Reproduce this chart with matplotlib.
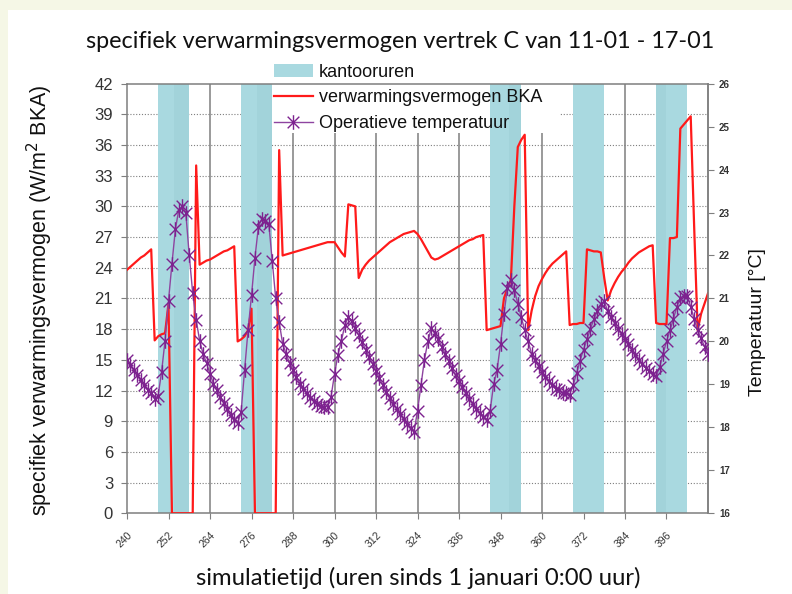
import numpy as np
import matplotlib
matplotlib.use("Agg")
import matplotlib.pyplot as plt
from matplotlib.patches import Rectangle, Patch
from matplotlib.lines import Line2D
from matplotlib.path import Path

# ---------------- data ----------------
hours = list(range(240, 409))

# specific heating power (W/m2 BKA), hourly
heating = [
    23.8, 24.1, 24.4, 24.7, 25.0, 25.2, 25.5, 25.8, 16.9, 17.3, 17.5, 17.6,   # 240-251
    20.5, 0, 0, 0, 0, 0, 0, 0, 34.0, 24.3, 24.5, 24.7,                        # 252-263
    24.8, 25.0, 25.2, 25.4, 25.6, 25.7, 25.9, 26.1, 16.8, 17.0, 17.3, 17.9,   # 264-275
    20.0, 0, 0, 0, 0, 0, 0, 0, 35.5, 25.2, 25.3, 25.4,                        # 276-287
    25.5, 25.6, 25.7, 25.8, 25.9, 26.0, 26.1, 26.2, 26.3, 26.4, 26.5, 26.5,   # 288-299
    26.5, 26.0, 25.5, 25.1, 30.2, 30.1, 30.0, 23.0, 23.8, 24.3, 24.7, 25.0,   # 300-311
    25.3, 25.6, 25.9, 26.2, 26.5, 26.7, 26.9, 27.1, 27.3, 27.4, 27.5, 27.6,   # 312-323
    27.3, 26.8, 26.2, 25.6, 25.0, 24.8, 24.9, 25.1, 25.3, 25.5, 25.7, 25.9,   # 324-335
    26.1, 26.3, 26.5, 26.7, 26.8, 27.0, 27.1, 27.2, 17.9, 18.0, 18.1, 18.2,   # 336-347
    18.3, 21.0, 22.0, 22.8, 30.0, 35.8, 36.5, 37.0, 17.9, 19.8, 21.2, 22.2,   # 348-359
    22.9, 23.5, 24.0, 24.4, 24.7, 25.0, 25.3, 25.6, 18.4, 18.5, 18.5, 18.6,   # 360-371
    18.6, 25.8, 25.7, 25.6, 25.6, 25.5, 23.0, 20.8, 21.8, 22.5, 23.1, 23.6,   # 372-383
    24.0, 24.5, 24.9, 25.2, 25.5, 25.7, 25.9, 26.1, 26.2, 18.6, 18.5, 18.5,   # 384-395
    18.5, 26.9, 26.9, 27.0, 37.6, 38.0, 38.4, 38.8, 28.0, 17.9, 19.5, 20.5,   # 396-407
    21.5,                                                                     # 408
]

# operative temperature (deg C), hourly
temperature = [
    19.57, 19.45, 19.33, 19.21, 19.10, 18.98, 18.88, 18.79, 18.67, 18.74, 19.29, 20.02,  # 240-251
    20.95, 21.81, 22.62, 23.07, 23.14, 23.00, 22.00, 21.12, 20.50, 20.02, 19.71, 19.50,  # 252-263
    19.24, 19.02, 18.86, 18.71, 18.57, 18.43, 18.29, 18.17, 18.10, 18.36, 19.33, 20.26,  # 264-275
    21.07, 21.95, 22.67, 22.86, 22.81, 22.74, 21.86, 21.00, 20.45, 19.95, 19.71, 19.50,  # 276-287
    19.33, 19.17, 19.02, 18.90, 18.79, 18.69, 18.62, 18.55, 18.50, 18.48, 18.48, 18.71,  # 288-299
    19.24, 19.69, 20.02, 20.38, 20.57, 20.48, 20.31, 20.14, 19.98, 19.81, 19.64, 19.48,  # 300-311
    19.31, 19.14, 18.98, 18.83, 18.69, 18.55, 18.43, 18.31, 18.19, 18.07, 17.98, 17.90,  # 312-323
    18.38, 18.98, 19.57, 20.00, 20.31, 20.19, 20.05, 19.88, 19.71, 19.55, 19.38, 19.21,  # 324-335
    19.07, 18.93, 18.79, 18.67, 18.55, 18.43, 18.33, 18.24, 18.17, 18.38, 19.00, 19.33,  # 336-347
    19.93, 20.64, 21.24, 21.43, 21.19, 20.88, 20.57, 20.26, 20.00, 19.71, 19.57, 19.43,  # 348-359
    19.29, 19.17, 19.07, 18.98, 18.90, 18.86, 18.81, 18.79, 18.76, 18.98, 19.26, 19.55,  # 360-371
    19.81, 20.05, 20.29, 20.52, 20.71, 20.88, 20.93, 20.71, 20.57, 20.43, 20.29, 20.17,  # 372-383
    20.05, 19.93, 19.81, 19.69, 19.57, 19.48, 19.38, 19.31, 19.24, 19.19, 19.40, 19.71,  # 384-395
    20.00, 20.26, 20.52, 20.81, 21.00, 21.05, 21.05, 20.81, 20.52, 20.26, 20.07, 19.88,  # 396-407
    19.71,                                                                               # 408
]

# office hours (kantooruren)
office_start = [249, 273, 345, 369, 393]
office_end = [258, 282, 354, 378, 402]
# slightly darker overlapping parts inside the bands
overlap_start = [253.5, 277.5, 350.5, 393.0]
overlap_end = [258.0, 282.0, 354.0, 395.8]

x_ticks = list(range(240, 397, 12))
y_ticks_left = list(range(0, 43, 3))
y_ticks_right = list(range(16, 27))

title = "specifiek verwarmingsvermogen vertrek C van 11-01 - 17-01"
xlabel = "simulatietijd (uren sinds 1 januari 0:00 uur)"
ylabel_left = "specifiek verwarmingsvermogen (W/m$^2$ BKA)"
ylabel_right = "Temperatuur [°C]"
legend_labels = ["kantooruren", "verwarmingsvermogen BKA", "Operatieve temperatuur"]

# ---------------- styling ----------------
W, H = 792, 594
BEIGE = "#f5f7e6"
BAND = "#a9d9e0"
BAND_DARK = "#a2d3da"
RED = "#ff1a1a"
PURPLE = "#7d228f"
PURPLE_LINE = "#8e44a0"
GRID = "#7f7f7f"
SANS = ["Liberation Sans", "DejaVu Sans"]
HUM = ["Lato", "DejaVu Sans"]

fig = plt.figure(figsize=(W / 100, H / 100), dpi=100, facecolor=BEIGE)
fig.patches.append(Rectangle((8 / W, 0), 1 - 8 / W, 1 - 10 / H, transform=fig.transFigure,
                             facecolor="white", edgecolor="none", zorder=-10))

L, R, B, T = 127 / W, 708 / W, 1 - 513.3 / H, 1 - 83.6 / H
ax = fig.add_axes([L, B, R - L, T - B])
ax.set_facecolor("white")
ax.set_xlim(240, 408)
ax.set_ylim(0, 42)

# grid
for xv in x_ticks[1:]:
    ax.axvline(xv, color=GRID, lw=1.1, zorder=1)
for yv in y_ticks_left[1:-1]:
    ax.axhline(yv, color=GRID, lw=0.8, ls=(0, (1, 1.6)), zorder=1)

# white legend background covering gridlines
ax.add_patch(Rectangle(((268 - 127) / (708 - 127), (513.3 - 133) / 429.7),
                       (560 - 268) / (708 - 127), 1.0, transform=ax.transAxes,
                       facecolor="white", edgecolor="none", zorder=1.5, clip_on=True))

# office bands
for s, e in zip(office_start, office_end):
    ax.axvspan(s, e, color=BAND, lw=0, zorder=2)
for s, e in zip(overlap_start, overlap_end):
    ax.axvspan(s, e, color=BAND_DARK, lw=0, zorder=2.1)

# heating line
ax.plot(hours, heating, color=RED, lw=1.6, zorder=4)

for sp in ["left", "bottom", "top", "right"]:
    ax.spines[sp].set_color(GRID)
    ax.spines[sp].set_linewidth(1.1)
ax.spines["top"].set_zorder(5)

ax.set_xticks(x_ticks)
ax.set_xticklabels([str(v) for v in x_ticks], rotation=45, ha="right", va="top",
                   fontsize=7.5, family=SANS, color="#333333", rotation_mode="anchor")
ax.set_yticks(y_ticks_left)
ax.set_yticklabels([str(v) for v in y_ticks_left], fontsize=12, family=SANS, color="#333333")
ax.tick_params(axis="y", direction="out", length=4, pad=6, color=GRID)
ax.tick_params(axis="x", direction="out", length=4, pad=8, color=GRID)

# temperature on right axis
ax2 = ax.twinx()
ax2.set_ylim(16, 26)
ax2.set_yticks(y_ticks_right)
ax2.set_yticklabels([str(v) for v in y_ticks_right], fontsize=7, family=SANS,
                    color="#333333", fontweight="bold")
ax2.tick_params(axis="y", direction="out", length=4, pad=4, color=GRID)
for sp in ["left", "bottom", "top", "right"]:
    ax2.spines[sp].set_visible(False)
ax2.spines["right"].set_visible(True)
ax2.spines["right"].set_color(GRID)
ax2.spines["right"].set_linewidth(1.1)

star = Path([(-1, -1), (1, 1), (-1, 1), (1, -1), (0, -1.25), (0, 1.25)],
            [Path.MOVETO, Path.LINETO, Path.MOVETO, Path.LINETO, Path.MOVETO, Path.LINETO])
ax2.plot(hours, temperature, color=PURPLE_LINE, lw=1.0, marker=star, ms=10.5,
         mec=PURPLE, mfc="none", mew=1.0, zorder=5)

# labels
fig.text(400 / W, 1 - 42 / H, title, ha="center", va="center",
         fontsize=16.8, family=HUM, color="#111111")
fig.text(418 / W, 1 - 578 / H, xlabel, ha="center", va="center",
         fontsize=17.2, family=HUM, color="#111111")
fig.text(40 / W, 1 - 300 / H, ylabel_left, ha="center", va="center", rotation=90,
         fontsize=15.5, family=SANS, color="#111111")
fig.text(757 / W, 1 - 322 / H, ylabel_right, ha="center", va="center", rotation=90,
         fontsize=14, family=SANS, color="#111111")

# legend
handles = [Patch(facecolor=BAND, edgecolor="none"),
           Line2D([], [], color=RED, lw=1.6),
           Line2D([], [], color=PURPLE_LINE, lw=1.0, marker=star, ms=10.5, mec=PURPLE,
                  mfc="none", mew=1.0)]
leg = fig.legend(handles, legend_labels, loc="upper left",
                 bbox_to_anchor=(270 / W, 1 - 60 / H), frameon=False,
                 prop={"family": SANS, "size": 13}, handlelength=2.2,
                 handletextpad=0.3, labelspacing=0.48, borderpad=0.2, borderaxespad=0)
for t in leg.get_texts():
    t.set_color("#111111")

fig.savefig("out.png", dpi=100, facecolor=BEIGE)
